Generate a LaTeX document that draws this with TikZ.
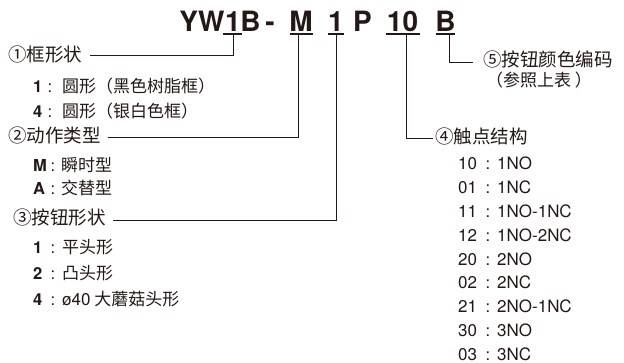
\documentclass[tikz,border=0pt]{standalone}
\usepackage{fontspec}
\setmainfont{TeX Gyre Heros}
\newfontfamily\cjk{Noto Sans CJK SC}
\definecolor{ink}{HTML}{231815}
\begin{document}
\begin{tikzpicture}[x=1pt,y=-1pt,
  ttl/.style={anchor=base,inner sep=0pt,text=ink,font=\bfseries\fontsize{28}{30}\selectfont},
  hd/.style={anchor=base west,inner sep=0pt,text=ink,font=\cjk\fontsize{18.5}{20}\selectfont},
  itx/.style={anchor=base west,inner sep=0pt,text=ink,font=\cjk\fontsize{17}{19}\selectfont},
  num/.style={anchor=base west,inner sep=0pt,text=ink,font=\bfseries\fontsize{16.5}{18}\selectfont},
  col/.style={anchor=base,inner sep=0pt,text=ink,font=\fontsize{16.5}{18}\selectfont},
  code/.style={anchor=base west,inner sep=0pt,text=ink,font=\fontsize{17}{19}\selectfont},
  ln/.style={draw=ink,line width=0.9pt},
  ul/.style={draw=ink,line width=1.1pt}]
\useasboundingbox (0,0) rectangle (624,363);
% title
\node[ttl] (tY) at (202,32) {YW};
\node[ttl] (t1) at (233,32) {1};
\node[ttl] (tB1) at (250.5,32) {B};
\node[ttl] (tD) at (270,32) {-};
\node[ttl] (tM) at (301,32) {M};
\node[ttl] (t2) at (336,32) {1};
\node[ttl] (tP) at (362.5,32) {P};
\node[ttl] (t10) at (402.5,32) {10};
\node[ttl] (tB2) at (445.5,32) {B};
% underlines
\draw[ul] ([xshift=-10pt,yshift=-2pt]t1.base) -- ([xshift=9pt,yshift=-2pt]t1.base);
\draw[ul] ([xshift=-11.5pt,yshift=-2pt]tM.base) -- ([xshift=11.5pt,yshift=-2pt]tM.base);
\draw[ul] ([xshift=-8pt,yshift=-2pt]t2.base) -- ([xshift=7.5pt,yshift=-2pt]t2.base);
\draw[ul] ([xshift=-17pt,yshift=-2pt]t10.base) -- ([xshift=17pt,yshift=-2pt]t10.base);
\draw[ul] ([xshift=-10pt,yshift=-2pt]tB2.base) -- ([xshift=9.5pt,yshift=-2pt]tB2.base);
% connector ends
\coordinate (c1) at (90,55);
\coordinate (c2) at (108,137);
\coordinate (c3) at (113,220);
\coordinate (c4) at (433,138);
\coordinate (c5) at (473,62);
\draw[ln] ([xshift=0.5pt,yshift=-2pt]t1.base) |- (c1);
\draw[ln] ([xshift=-3pt,yshift=-2pt]tM.base) |- (c2);
\draw[ln] ([yshift=-2pt]t2.base) |- (c3);
\draw[ln] ([xshift=3.5pt,yshift=-2pt]t10.base) |- (c4);
\draw[ln] ([xshift=3.5pt,yshift=-2pt]tB2.base) |- (c5);
% left block
\node[hd] (h1) at (8,62) {①框形状};
\node[num] (n11) at (33,93) {1};
\node[col] (k11) at (50,93) {:};
\node[itx] (i11) at (62,93) {圆形（黑色树脂框）};
\node[num] (n12) at (33,118) {4};
\node[col] (k12) at (50,118) {:};
\node[itx] (i12) at (62,118) {圆形（银白色框）};
\node[hd] (h2) at (8,143) {②动作类型};
\node[num] (n21) at (33,172) {M};
\node[col] (k21) at (53,172) {:};
\node[itx] (i21) at (61,172) {瞬时型};
\node[num] (n22) at (33,195) {A};
\node[col] (k22) at (53,195) {:};
\node[itx] (i22) at (61,195) {交替型};
\node[hd] (h3) at (13,225) {③按钮形状};
\node[num] (n31) at (33,254) {1};
\node[col] (k31) at (53,254) {:};
\node[itx] (i31) at (62,254) {平头形};
\node[num] (n32) at (33,280) {2};
\node[col] (k32) at (53,280) {:};
\node[itx] (i32) at (62,280) {凸头形};
\node[num] (n33) at (33,306) {4};
\node[col] (k33) at (53,306) {:};
\node[itx] (i33) at (62,306) {{\rmfamily ø40} 大蘑菇头形};
% right block
\node[hd] (h5) at (483,67) {⑤按钮颜色编码};
\node[itx] (h5b) at (486,87) {（参照上表 ）};
\node[hd] (h4) at (435,144) {④触点结构};
\foreach \c/\v/\y in {10/1NO/169.5, 01/1NC/193.5, 11/1NO-1NC/217.5, 12/1NO-2NC/241.5, 20/2NO/265.5, 02/2NC/289, 21/2NO-1NC/312.5, 30/3NO/336.5, 03/3NC/360}{
  \node[code] (r\c) at (458,\y) {\c};
  \node[col] (rk\c) at (488,\y) {:};
  \node[code] (rv\c) at (497,\y) {\v};
}
\end{tikzpicture}
\end{document}
